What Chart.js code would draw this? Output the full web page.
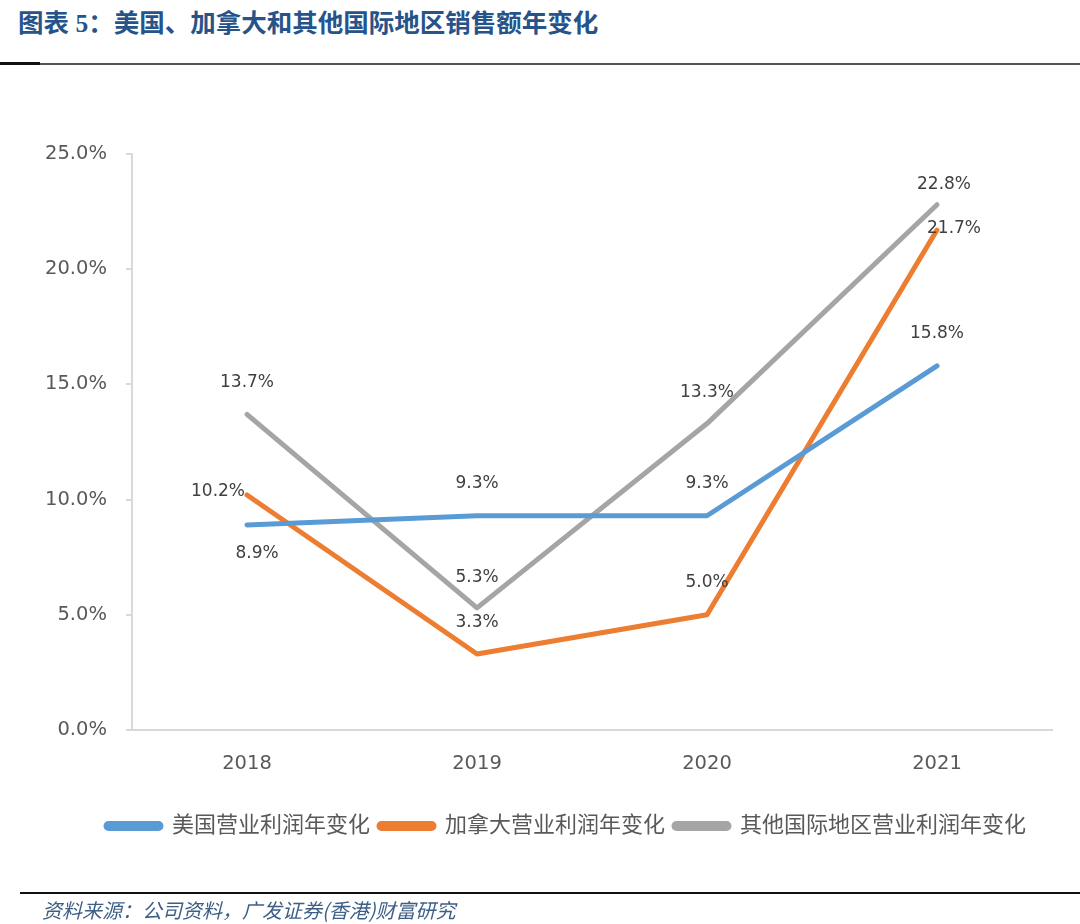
<!DOCTYPE html>
<html lang="zh-CN">
<head>
    <meta charset="UTF-8">
    <title>图表 5</title>
    <script src="https://cdn.jsdelivr.net/npm/chart.js"></script>
    <style>
        body { margin: 0; background: #fff; width: 1080px; height: 924px; position: relative; overflow: hidden; }
        #titulo { position: absolute; left: 18px; top: 2px; font: bold 25.5px "Liberation Serif", "Noto Sans CJK SC", serif; color: #26548a; }
        #linhaTopo { position: absolute; left: 0; top: 63px; width: 1080px; height: 1.5px; background: #555; }
        #linhaTopoPreta { position: absolute; left: 0; top: 62px; width: 40px; height: 3px; background: #111; }
        #linhaRodape { position: absolute; left: 20px; top: 892px; width: 1060px; height: 2px; background: #111; }
        #fonte { position: absolute; left: 42px; top: 895px; font: italic 20px "Noto Sans CJK SC", sans-serif; color: #3d5f86; }
        #grafico { position: absolute; left: 0; top: 0; }
    </style>
</head>
<body>
    <div id="titulo">图表 5：美国、加拿大和其他国际地区销售额年变化</div>
    <div id="linhaTopo"></div>
    <div id="linhaTopoPreta"></div>
    <canvas id="grafico" width="1080" height="924"></canvas>
    <div id="linhaRodape"></div>
    <div id="fonte">资料来源：公司资料，广发证券(香港)财富研究</div>

<script>
    const anos = ['2018', '2019', '2020', '2021'];
    const nomesSeries = ['美国营业利润年变化', '加拿大营业利润年变化', '其他国际地区营业利润年变化'];
    const eua = [8.9, 9.3, 9.3, 15.8];
    const canada = [10.2, 3.3, 5.0, 21.7];
    const outros = [13.7, 5.3, 13.3, 22.8];
    const cores = ['#5b9bd5', '#ed7d31', '#a5a5a5'];

    // deslocamento dos rotulos [dx, dy, alinhamento]
    const posRotulos = [
        [[10, 29, 'center'], [0, -32, 'center'], [0, -32, 'center'], [0, -32, 'center']],
        [[-2, -3, 'right'], [0, -31, 'center'], [0, -32, 'center'], [17, -1, 'center']],
        [[0, -32, 'center'], [0, -30, 'center'], [0, -31, 'center'], [7, -20, 'center']]
    ];

    const rotulos = {
        id: 'rotulos',
        afterLayout(chart) {
            // legenda do original fica um pouco a direita
            chart.legend.left += 40;
            chart.legend.right += 40;
        },
        afterDatasetsDraw(chart) {
            const ctx = chart.ctx;
            ctx.save();
            ctx.font = '17px "DejaVu Sans"';
            ctx.fillStyle = '#404040';
            ctx.textBaseline = 'middle';
            chart.data.datasets.forEach(function (ds, i) {
                const meta = chart.getDatasetMeta(i);
                meta.data.forEach(function (pt, j) {
                    const p = posRotulos[i][j];
                    ctx.textAlign = p[2];
                    ctx.fillText(ds.data[j].toFixed(1) + '%', pt.x + p[0], pt.y + p[1]);
                });
            });
            ctx.restore();
        }
    };

    const series = [eua, canada, outros];
    const datasets = [];
    for (let i = 0; i < series.length; i++) {
        datasets.push({
            label: nomesSeries[i],
            data: series[i],
            borderColor: cores[i],
            backgroundColor: cores[i],
            borderWidth: 5,
            borderCapStyle: 'round',
            borderJoinStyle: 'round',
            pointRadius: 0,
            tension: 0
        });
    }

    new Chart(document.getElementById('grafico'), {
        type: 'line',
        data: { labels: anos, datasets: datasets },
        plugins: [rotulos],
        options: {
            responsive: false,
            animation: false,
            layout: { padding: { top: 154, left: 0, right: 28, bottom: 77 } },
            scales: {
                x: {
                    offset: true,
                    grid: { display: false, drawTicks: false },
                    border: { color: '#d9d9d9', width: 2 },
                    ticks: { color: '#595959', padding: 22, font: { size: 19.5, family: 'DejaVu Sans' } },
                    afterFit: function (s) { s.height = 76; }
                },
                y: {
                    min: 0,
                    max: 25,
                    grid: { drawOnChartArea: false, drawTicks: true, tickLength: 6, color: '#d9d9d9', lineWidth: 2 },
                    border: { color: '#d9d9d9', width: 2 },
                    ticks: {
                        stepSize: 5,
                        padding: 19,
                        color: '#595959',
                        font: { size: 19.5, family: 'DejaVu Sans' },
                        callback: function (v) { return v.toFixed(1) + '%'; }
                    },
                    afterFit: function (s) { s.width = 132; }
                }
            },
            plugins: {
                legend: {
                    position: 'bottom',
                    labels: {
                        boxWidth: 55,
                        boxHeight: 5,
                        useBorderRadius: true,
                        borderRadius: 2.5,
                        padding: 9,
                        color: '#595959',
                        font: { size: 22, family: '"DejaVu Sans", "Noto Sans CJK SC"' }
                    }
                },
                tooltip: { enabled: false }
            }
        }
    });
</script>
</body>
</html>
